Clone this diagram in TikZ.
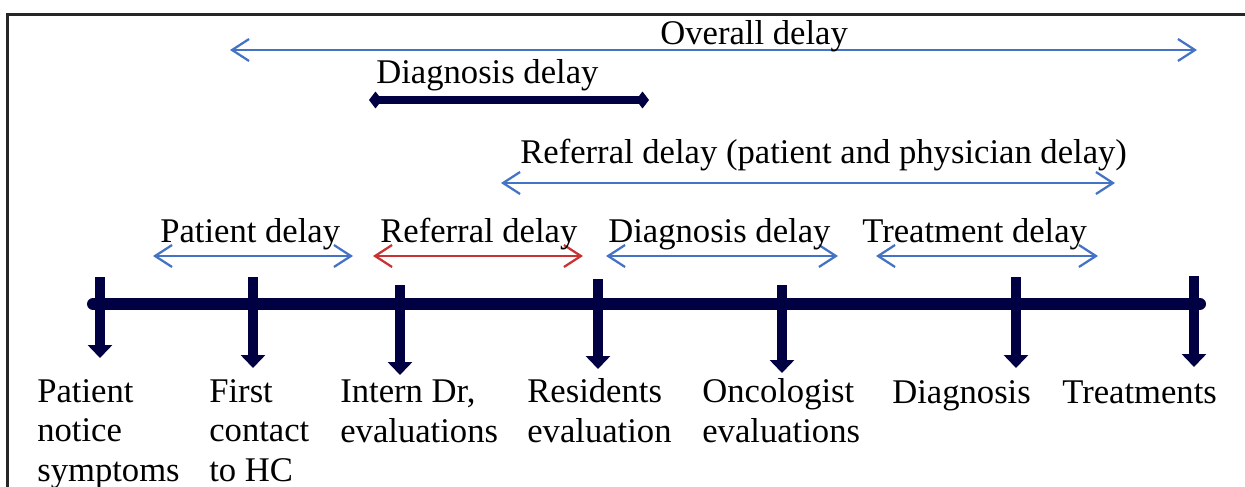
\documentclass[tikz,border=0pt]{standalone}
\usepackage{fontspec}
\setmainfont{Liberation Serif}
\usetikzlibrary{
	arrows.meta,
}
\definecolor{navy}{RGB}{0,0,66}
\definecolor{delayblue}{RGB}{68,114,196}
\definecolor{delayred}{RGB}{200,50,50}
\tikzset{delay/.style={
		% thin arrow, open head at both ends
		{Straight Barb[length=3.4mm,width=4.4mm]}-{Straight Barb[length=3.4mm,width=4.4mm]},
		line width=0.45mm,
		draw=delayblue,
}}
\tikzset{tickarrow/.style={
		% the arrows hanging down from the time line
		-{Triangle[length=2.6mm,width=4.8mm]},
		line width=2mm,
		draw=navy,
}}
\tikzset{timeline/.style={
		line width=2.4mm,line cap=round,draw=navy,
}}
\tikzset{delaytext/.style={
		anchor=base west,inner sep=0pt,
		font=\fontsize{19.7}{22}\selectfont,
}}
\tikzset{stagetext/.style={
		% base of a node with lines is its last line
		anchor=base west,inner sep=0pt,align=left,
		font=\fontsize{19.7}{22.2}\selectfont,
}}

\begin{document}
\begin{tikzpicture}[x=0.2mm,y=-0.2mm]
	\useasboundingbox (0,0) rectangle (1245,487);
	% frame
	\draw [line width=0.6mm,black!85] (7,487) -- (7,14) -- (1245,14);
	% time line
	\coordinate (line start) at (93,304);
	\coordinate (line end) at (1200,304);
	\draw [timeline] (line start) -- (line end);
	% stages
	\foreach \i/\x/\top/\tip/\lx/\ly/\txt in {
		1/100/277/358/37/481/{Patient\\notice\\symptoms},
		2/253/277/368/209/481/{First\\contact\\to HC},
		3/400/285/375/340/442/{Intern Dr,\\evaluations},
		4/598/279/369/527/442/{Residents\\evaluation},
		5/782/285/373/702/442/{Oncologist\\evaluations},
		6/1016/277/368/892/403/{Diagnosis},
		7/1194/276/367/1062/403/{Treatments}}{
		\coordinate (top\i) at (\x,\top);
		\coordinate (tip\i) at (\x,\tip);
		\draw [tickarrow] (top\i) -- (tip\i);
		\node [stagetext] (stage\i) at (\lx,\ly) {\txt};
	}
	% overall delay
	\coordinate (overall l) at (230,50);
	\coordinate (overall r) at (1197,50);
	\draw [delay] (overall l) -- (overall r);
	\node [delaytext] (overall) at (660,44) {Overall delay};
	% diagnosis delay (thick)
	\coordinate (diag l) at (369,100);
	\coordinate (diag r) at (649,100);
	\draw [navy,line width=1.7mm,{Diamond[length=2.6mm,width=3.4mm]}-{Diamond[length=2.6mm,width=3.4mm]}] (diag l) -- (diag r);
	\node [delaytext] (diag) at (376,83) {Diagnosis delay};
	% referral delay, patient and physician
	\coordinate (refall l) at (501,183);
	\coordinate (refall r) at (1115,183);
	\draw [delay] (refall l) -- (refall r);
	\node [delaytext] (refall) at (520,163) {Referral delay (patient and physician delay)};
	% lower row
	\foreach \n/\a/\b/\lx/\col/\txt in {
		patient/153/353/160/delayblue/{Patient delay},
		referral/373/583/380/delayred/{Referral delay},
		diagnosis/606/838/608/delayblue/{Diagnosis delay},
		treatment/876/1098/862/delayblue/{Treatment delay}}{
		\coordinate (\n l) at (\a,256);
		\coordinate (\n r) at (\b,256);
		\draw [delay,draw=\col] (\n l) -- (\n r);
		\node [delaytext] (\n) at (\lx,242) {\txt};
	}
\end{tikzpicture}
\end{document}
